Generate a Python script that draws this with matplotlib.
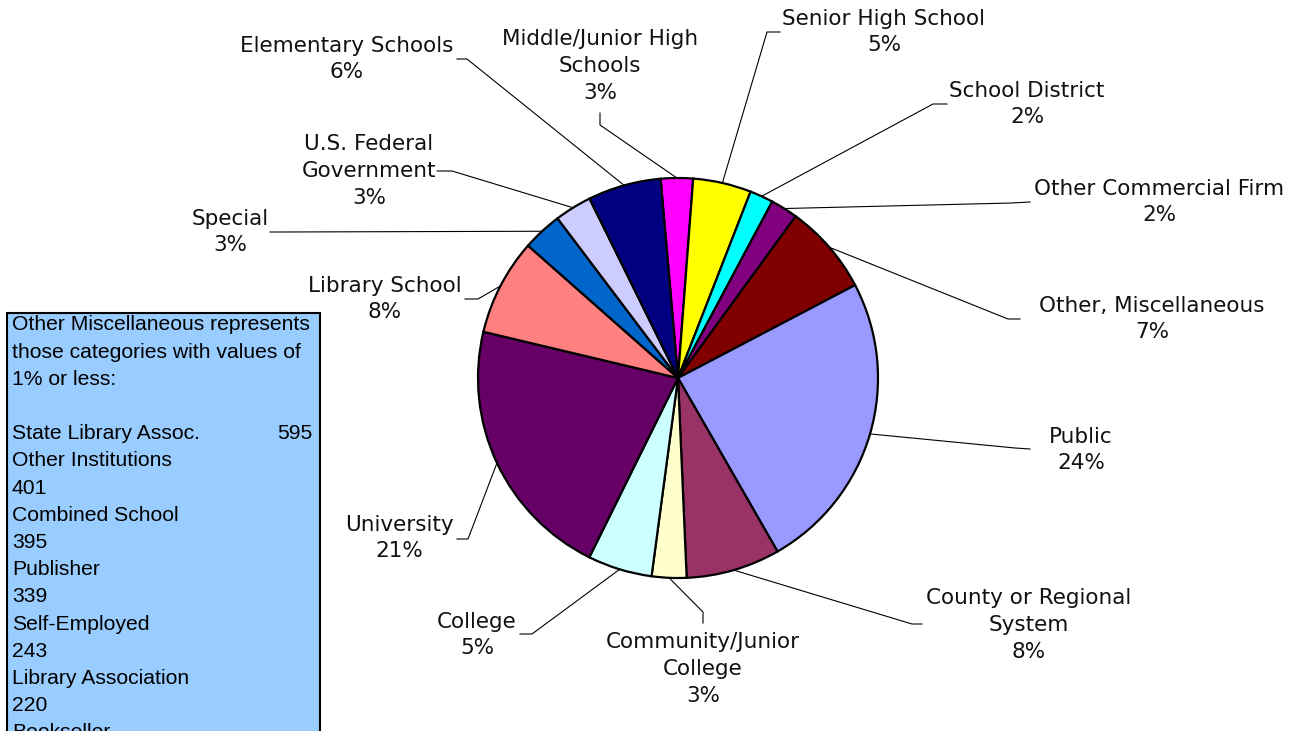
import numpy as np
import matplotlib
matplotlib.use("Agg")
import matplotlib.pyplot as plt
from matplotlib.patches import Rectangle

# === data (clockwise from the top) ===
categories = ["Middle/Junior High\nSchools", "Senior High School", "School District",
              "Other Commercial Firm", "Other, Miscellaneous", "Public",
              "County or Regional\nSystem", "Community/Junior\nCollege", "College",
              "University", "Library School", "Special", "U.S. Federal\nGovernment",
              "Elementary Schools"]
shares = [2.6, 4.7, 1.9, 2.2, 7.3, 24.4, 7.6, 2.8, 5.2, 21.4, 7.8, 3.2, 3.0, 5.9]
colors = ["#FF00FF", "#FFFF00", "#00FFFF", "#800080", "#800000", "#9999FF",
          "#993366", "#FFFFCC", "#CCFFFF", "#660066", "#FF8080", "#0066CC",
          "#CCCCFF", "#000080"]

misc_names = ["State Library Assoc.", "Other Institutions", "Combined School",
              "Publisher", "Self-Employed", "Library Association", "Bookseller"]
misc_counts = [595, 401, 395, 339, 243, 220]

# === layout (pixels, y from top) ===
W, H = 1295, 731
cx, cy, R = 678, 378, 200
label_xy = [(600, 66), (884, 32), (1027, 104), (1159, 202), (1152, 319), (1081, 450),
            (1029, 625), (703, 669), (477, 635), (399, 538), (385, 299), (230, 232),
            (369, 171), (347, 59)]
leader_pts = [[(600, 113), (600, 125)], [(780, 32), (767, 32)], [(947, 104), (933, 104)],
              [(1030, 202), (1012, 203)], [(1020, 319), (1008, 319)],
              [(1030, 449), (1015, 448)], [(922, 624), (912, 624)],
              [(703, 623), (703, 612)], [(520, 634), (532, 634)],
              [(457, 539), (468, 539)], [(465, 299), (478, 299)],
              [(270, 232), (280, 232)], [(437, 171), (452, 171)],
              [(457, 59), (467, 59)]]


def Y(y):
    return H - y


fig = plt.figure(figsize=(W / 100, H / 100), dpi=100)
ax = fig.add_axes([0, 0, 1, 1])

wedges, _ = ax.pie(shares, colors=colors, startangle=95, counterclock=False,
                   center=(cx, Y(cy)), radius=R,
                   wedgeprops=dict(edgecolor="black", linewidth=1.6))
ax.set_xlim(0, W)
ax.set_ylim(0, H)
ax.set_aspect("auto")
ax.axis("off")

total = sum(shares)
for w, name, s, (tx, ty), pts in zip(wedges, categories, shares, label_xy, leader_pts):
    mid = np.deg2rad((w.theta1 + w.theta2) / 2)
    ex = cx + R * np.cos(mid)
    ey = Y(cy) + R * np.sin(mid)
    xs = [p[0] for p in pts] + [ex]
    ys = [Y(p[1]) for p in pts] + [ey]
    ax.plot(xs, ys, color="black", lw=0.8)
    pct = round(s / total * 100)
    ax.text(tx, Y(ty), f"{name}\n{pct}%", ha="center", va="center",
            fontsize=15.5, color="#111111", family="DejaVu Sans", linespacing=1.42)

# === note box ===
ax.add_patch(Rectangle((7, Y(760)), 313, 760 - 313, facecolor="#99CCFF",
                       edgecolor="black", lw=1.5, zorder=3))
lines = ["Other Miscellaneous represents", "those categories with values of",
         "1% or less:", ""]
lines.append(misc_names[0])
for n, c in zip(misc_names[1:], misc_counts[1:]):
    lines += [n, str(c)]
lines.append(misc_names[-1])
pitch = 27.2
for i, t in enumerate(lines):
    ax.text(12, Y(325 + i * pitch), t, ha="left", va="center", fontsize=15.2,
            family="Liberation Sans", color="black", zorder=4)
ax.text(312, Y(325 + 4 * pitch), str(misc_counts[0]), ha="right", va="center",
        fontsize=15.2, family="Liberation Sans", color="black", zorder=4)

fig.savefig("out.png", dpi=100)
